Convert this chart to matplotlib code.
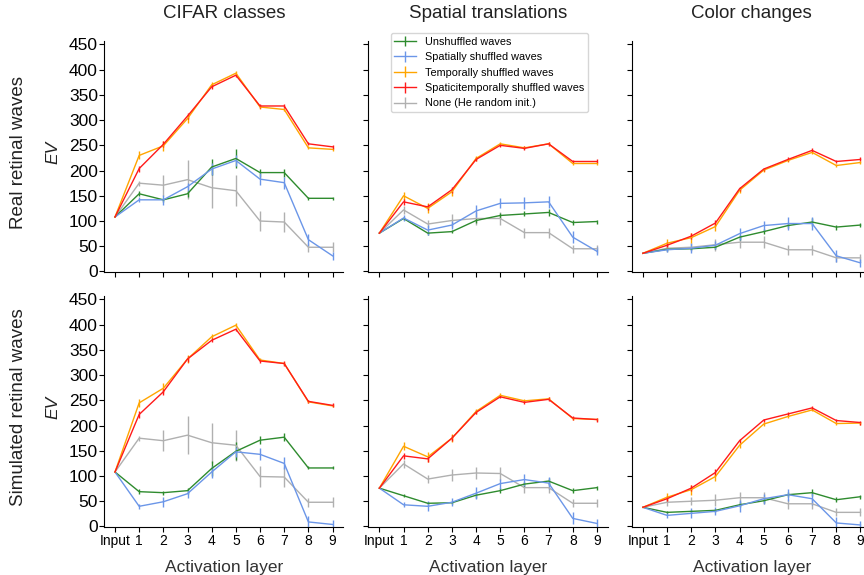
import numpy as np
import matplotlib
matplotlib.use("Agg")
import matplotlib.pyplot as plt

plt.rcParams["font.family"] = ["Liberation Sans", "DejaVu Sans"]

# =====================
# Data
# =====================

layers = ["Input", "1", "2", "3", "4", "5", "6", "7", "8", "9"]
columns = ["CIFAR classes", "Spatial translations", "Color changes"]
rows = ["Real retinal waves", "Simulated retinal waves"]
series = ["Unshuffled waves", "Spatially shuffled waves", "Temporally shuffled waves",
          "Spaticitemporally shuffled waves", "None (He random init.)"]

# real waves, CIFAR
real_cifar_unsh = [108, 154, 142, 154, 207, 224, 196, 196, 145, 145]
real_cifar_spat = [108, 142, 142, 168, 203, 220, 183, 176, 63, 31]
real_cifar_temp = [108, 230, 249, 303, 370, 393, 326, 321, 245, 242]
real_cifar_spte = [108, 204, 252, 308, 366, 389, 328, 328, 253, 247]
real_cifar_none = [108, 175, 171, 182, 166, 160, 100, 98, 48, 48]

# real waves, spatial
real_spat_unsh = [76, 105, 76, 79, 101, 111, 114, 117, 97, 99]
real_spat_spat = [76, 106, 82, 92, 120, 135, 136, 138, 68, 40]
real_spat_temp = [76, 150, 125, 158, 224, 253, 245, 253, 214, 214]
real_spat_spte = [76, 138, 128, 162, 222, 250, 244, 253, 218, 218]
real_spat_none = [76, 122, 94, 101, 105, 105, 77, 77, 45, 45]

# real waves, color
real_col_unsh = [36, 44, 45, 48, 68, 79, 91, 98, 88, 92]
real_col_spat = [36, 43, 46, 52, 75, 91, 95, 95, 31, 17]
real_col_temp = [36, 56, 67, 89, 161, 201, 220, 236, 210, 216]
real_col_spte = [36, 52, 70, 96, 164, 203, 222, 240, 218, 222]
real_col_none = [36, 46, 48, 53, 58, 58, 43, 43, 27, 27]

# simulated waves, CIFAR
sim_cifar_unsh = [108, 69, 67, 71, 115, 149, 171, 177, 116, 116]
sim_cifar_spat = [108, 40, 49, 65, 108, 148, 143, 125, 9, 4]
sim_cifar_temp = [108, 245, 274, 332, 376, 399, 330, 323, 247, 239]
sim_cifar_spte = [108, 222, 267, 332, 369, 391, 328, 323, 248, 240]
sim_cifar_none = [108, 175, 170, 181, 166, 161, 99, 98, 48, 48]

# simulated waves, spatial
sim_spat_unsh = [76, 61, 46, 47, 62, 71, 84, 90, 71, 77]
sim_spat_spat = [76, 43, 40, 48, 66, 85, 93, 86, 16, 6]
sim_spat_temp = [76, 159, 138, 175, 228, 260, 249, 253, 214, 212]
sim_spat_spte = [76, 140, 134, 175, 226, 257, 246, 252, 215, 212]
sim_spat_none = [76, 124, 94, 102, 106, 105, 77, 77, 46, 46]

# simulated waves, color
sim_col_unsh = [38, 28, 30, 32, 43, 51, 63, 67, 53, 59]
sim_col_spat = [38, 22, 26, 30, 41, 55, 63, 55, 7, 3]
sim_col_temp = [38, 58, 73, 99, 161, 203, 218, 231, 204, 205]
sim_col_spte = [38, 55, 76, 107, 170, 211, 223, 235, 210, 206]
sim_col_none = [38, 48, 50, 52, 57, 57, 45, 45, 28, 28]

# error bars (half widths)
err_unsh = [0, 5, 4, 6, 15, 18, 8, 8, 3, 3]
err_unsh_small = [0, 3, 3, 3, 5, 5, 5, 7, 5, 4]
err_spat = [0, 5, 10, 8, 12, 10, 12, 12, 12, 8]
err_temp = [0, 8, 10, 8, 5, 4, 3, 3, 3, 3]
err_spte = [0, 6, 6, 6, 4, 3, 4, 4, 3, 4]
err_none = [0, 5, 21, 38, 40, 31, 20, 20, 9, 10]
err_none_small = [0, 8, 8, 12, 12, 12, 10, 10, 8, 8]

data = [
    [[real_cifar_unsh, real_cifar_spat, real_cifar_temp, real_cifar_spte, real_cifar_none],
     [real_spat_unsh, real_spat_spat, real_spat_temp, real_spat_spte, real_spat_none],
     [real_col_unsh, real_col_spat, real_col_temp, real_col_spte, real_col_none]],
    [[sim_cifar_unsh, sim_cifar_spat, sim_cifar_temp, sim_cifar_spte, sim_cifar_none],
     [sim_spat_unsh, sim_spat_spat, sim_spat_temp, sim_spat_spte, sim_spat_none],
     [sim_col_unsh, sim_col_spat, sim_col_temp, sim_col_spte, sim_col_none]],
]

colors = ["#2e8b2e", "#6b96e8", "#ffa500", "#ff1a1a", "#b0b0b0"]
draw_order = [4, 0, 1, 2, 3]

# =====================
# Plot
# =====================

fig = plt.figure(figsize=(8.64, 5.75), dpi=100)

lefts = [0.1205, 0.4265, 0.7315]
bottoms = [0.527, 0.0835]
width = 0.277
height = 0.401

x = np.arange(len(layers))

for r in range(2):
    for c in range(3):
        ax = fig.add_axes([lefts[c], bottoms[r], width, height])
        if c == 0:
            errs = [err_unsh, err_spat, err_temp, err_spte, err_none]
        else:
            errs = [err_unsh_small, err_spat, err_temp, err_spte, err_none_small]
        handles = {}
        for k in draw_order:
            h = ax.errorbar(x, data[r][c][k], yerr=errs[k], color=colors[k],
                            lw=1.0, elinewidth=1.0, capsize=0,
                            label=series[k])
            handles[k] = h
        ax.set_xlim(-0.45, 9.45)
        ax.set_ylim(-1, 456)
        ax.set_yticks(np.arange(0, 451, 50))
        ax.spines["top"].set_visible(False)
        ax.spines["right"].set_visible(False)
        ax.tick_params(axis="both", direction="out", length=3.5, width=0.8)
        if c == 0:
            ax.tick_params(axis="y", labelsize=12.5, pad=1)
        else:
            ax.set_yticklabels([])
        ax.set_xticks(x)
        if r == 1:
            ax.set_xticklabels(layers, fontsize=10)
            ax.tick_params(axis="x", pad=1.5)
            ax.set_xlabel("Activation layer", fontsize=12.5, labelpad=9,
                          color="#333333")
        else:
            ax.set_xticklabels([])
        if r == 0:
            ax.set_title(columns[c], fontsize=13.5, pad=17, color="#222222")
        if r == 0 and c == 1:
            ax.legend([handles[k] for k in range(5)], series, loc="upper left",
                      bbox_to_anchor=(0.07, 1.06), fontsize=7.8,
                      handlelength=2.0, frameon=True, borderpad=0.35,
                      labelspacing=0.5, handletextpad=0.8)

for r in range(2):
    yc = bottoms[r] + height * 0.52
    fig.text(0.021, yc, rows[r], rotation=90, ha="center", va="center",
             fontsize=13.5, color="#222222")
    fig.text(0.061, yc, "EV", rotation=90, ha="center", va="center",
             fontsize=12.5, style="italic", color="#222222")

plt.savefig("out.png", dpi=100)
